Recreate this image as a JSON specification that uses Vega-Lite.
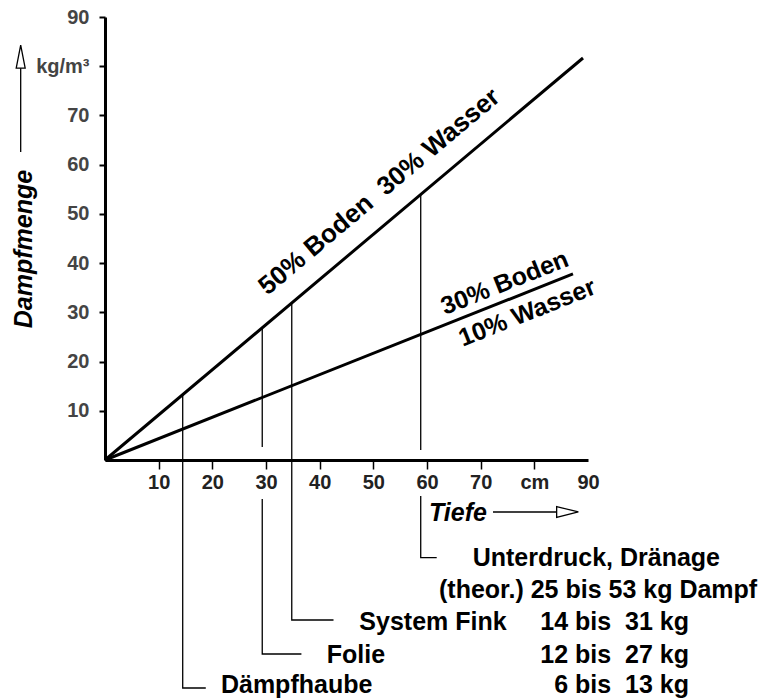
{
  "$schema": "https://vega.github.io/schema/vega-lite/v6.json",
  "autosize": {"type": "none"},
  "padding": {"left": 105, "top": 17, "right": 187, "bottom": 240},
  "width": 483,
  "height": 443,
  "background": "white",
  "config": {"view": {"stroke": null}, "font": "Liberation Sans"},
  "datasets": {
    "mainLines": [
      {"s": "steep", "x": 0, "y": 0},
      {"s": "steep", "x": 89.07, "y": 81.67},
      {"s": "shallow", "x": 0, "y": 0},
      {"s": "shallow", "x": 87.2, "y": 37.8}
    ],
    "connectors": [
      {"seg": "d", "o": 0, "x": 14.48, "y": 13.28},
      {"seg": "d", "o": 1, "x": 14.48, "y": -46.32},
      {"seg": "d", "o": 2, "x": 18.78, "y": -46.32},
      {"seg": "f1", "o": 0, "x": 29.3, "y": 26.87},
      {"seg": "f1", "o": 1, "x": 29.3, "y": 2.64},
      {"seg": "f2", "o": 0, "x": 29.3, "y": -7.92},
      {"seg": "f2", "o": 1, "x": 29.3, "y": -39.41},
      {"seg": "f2", "o": 2, "x": 36.6, "y": -39.41},
      {"seg": "s", "o": 0, "x": 34.8, "y": 31.91},
      {"seg": "s", "o": 1, "x": 34.8, "y": -32.51},
      {"seg": "s", "o": 2, "x": 42.58, "y": -32.51},
      {"seg": "u1", "o": 0, "x": 58.83, "y": 53.95},
      {"seg": "u1", "o": 1, "x": 58.83, "y": 2.03},
      {"seg": "u2", "o": 0, "x": 58.83, "y": -7.31},
      {"seg": "u2", "o": 1, "x": 58.83, "y": -19.85},
      {"seg": "u2", "o": 2, "x": 61.81, "y": -19.85}
    ],
    "arrowShafts": [
      {"x": -15.71, "y": 62.57, "x2": -15.71, "y2": 79.58},
      {"x": 72.3, "y": -10.56, "x2": 84.22, "y2": -10.56}
    ],
    "arrowUp": [{"x": -15.71, "y": 81.94}],
    "arrowRight": [{"x": 86.18, "y": -10.56}],
    "steepLabel": [{"x": 54.6, "y": 50.0, "label": "50% Boden\u00a0 30% Wasser"}],
    "shallowUpper": [{"x": 75.65, "y": 32.8, "label": "30% Boden"}],
    "shallowLower": [{"x": 77.35, "y": 33.53, "label": "10% Wasser"}],
    "notesLeft": [
      {"x": 68.52, "y": -20.01, "label": "Unterdruck, Dränage"},
      {"x": 62.24, "y": -26.31, "label": "(theor.) 25 bis 53 kg Dampf"},
      {"x": 47.39, "y": -33.01, "label": "System Fink"},
      {"x": 41.31, "y": -39.52, "label": "Folie"},
      {"x": 21.6, "y": -45.81, "label": "Dämpfhaube"}
    ],
    "notesRight": [
      {"x": 108.82, "y": -33.01, "label": "14 bis\u00a0 31 kg"},
      {"x": 108.82, "y": -39.52, "label": "12 bis\u00a0 27 kg"},
      {"x": 108.82, "y": -45.81, "label": "6 bis\u00a0 13 kg"}
    ]
  },
  "encoding": {
    "x": {
      "field": "x",
      "type": "quantitative",
      "scale": {"domain": [0, 90], "nice": false, "zero": false},
      "axis": {
        "values": [10, 20, 30, 40, 50, 60, 70, 80, 90],
        "labelExpr": "datum.value == 80 ? 'cm' : datum.label",
        "title": "Tiefe",
        "titleFont": "Liberation Sans",
        "titleFontStyle": "italic",
        "titleFontWeight": "bold",
        "titleFontSize": 25,
        "titleColor": "black",
        "titleX": 352.5,
        "titleY": 52,
        "titleAlign": "center",
        "titleBaseline": "middle",
        "labelFont": "Liberation Sans",
        "labelFontWeight": "bold",
        "labelFontSize": 20,
        "labelColor": "#222222",
        "labelPadding": 3,
        "labelFlush": false,
        "labelOverlap": false,
        "tickSize": 9,
        "tickWidth": 1.5,
        "tickColor": "black",
        "tickOpacity": {"condition": {"test": "datum.value == 90", "value": 0}, "value": 1},
        "domainWidth": 3,
        "domainColor": "black",
        "grid": false
      }
    },
    "y": {
      "field": "y",
      "type": "quantitative",
      "scale": {"domain": [0, 90], "nice": false, "zero": false},
      "axis": {
        "values": [10, 20, 30, 40, 50, 60, 70, 80, 90],
        "labelExpr": "datum.value == 80 ? 'kg/m³' : datum.label",
        "title": "Dampfmenge",
        "titleFont": "Liberation Sans",
        "titleFontStyle": "italic",
        "titleFontWeight": "bold",
        "titleFontSize": 25,
        "titleColor": "black",
        "titleAngle": 270,
        "titleX": -81.5,
        "titleY": 231.5,
        "titleAlign": "center",
        "titleBaseline": "middle",
        "labelFont": "Liberation Sans",
        "labelFontWeight": "bold",
        "labelFontSize": 20,
        "labelColor": "#444444",
        "labelPadding": 10,
        "labelFlush": false,
        "labelOverlap": false,
        "tickSize": 6,
        "tickWidth": 2,
        "tickColor": "black",
        "domainWidth": 3,
        "domainColor": "black",
        "grid": false
      }
    }
  },
  "layer": [
    {
      "data": {"name": "mainLines"},
      "mark": {"type": "line", "color": "black", "strokeWidth": 3},
      "encoding": {"detail": {"field": "s", "type": "nominal"}}
    },
    {
      "data": {"name": "connectors"},
      "mark": {"type": "line", "color": "black", "strokeWidth": 1.3},
      "encoding": {
        "detail": {"field": "seg", "type": "nominal"},
        "order": {"field": "o", "type": "quantitative"}
      }
    },
    {
      "data": {"name": "arrowShafts"},
      "mark": {"type": "rule", "color": "black", "strokeWidth": 1.3},
      "encoding": {
        "x2": {"field": "x2"},
        "y2": {"field": "y2"}
      }
    },
    {
      "data": {"name": "arrowUp"},
      "mark": {"type": "point", "shape": "M -0.39 1 L 0 -1 L 0.39 1 Z", "size": 529, "filled": false, "stroke": "black", "strokeWidth": 1.3, "opacity": 1}
    },
    {
      "data": {"name": "arrowRight"},
      "mark": {"type": "point", "shape": "M -1 -0.5 L 1 0 L -1 0.5 Z", "size": 471, "filled": false, "stroke": "black", "strokeWidth": 1.3, "opacity": 1}
    },
    {
      "data": {"name": "steepLabel"},
      "mark": {"type": "text", "font": "Liberation Sans", "fontWeight": "bold", "fontSize": 26, "angle": -40, "align": "center", "baseline": "alphabetic", "dy": -21, "color": "black"},
      "encoding": {"text": {"field": "label"}}
    },
    {
      "data": {"name": "shallowUpper"},
      "mark": {"type": "text", "font": "Liberation Sans", "fontWeight": "bold", "fontSize": 25, "angle": -21.7, "align": "center", "baseline": "alphabetic", "dy": -9, "color": "black"},
      "encoding": {"text": {"field": "label"}}
    },
    {
      "data": {"name": "shallowLower"},
      "mark": {"type": "text", "font": "Liberation Sans", "fontWeight": "bold", "fontSize": 25, "angle": -21.7, "align": "center", "baseline": "alphabetic", "dy": 27, "color": "black"},
      "encoding": {"text": {"field": "label"}}
    },
    {
      "data": {"name": "notesLeft"},
      "mark": {"type": "text", "font": "Liberation Sans", "fontWeight": "bold", "fontSize": 25, "align": "left", "baseline": "middle", "color": "black"},
      "encoding": {"text": {"field": "label"}}
    },
    {
      "data": {"name": "notesRight"},
      "mark": {"type": "text", "font": "Liberation Sans", "fontWeight": "bold", "fontSize": 25, "align": "right", "baseline": "middle", "color": "black"},
      "encoding": {"text": {"field": "label"}}
    }
  ]
}
